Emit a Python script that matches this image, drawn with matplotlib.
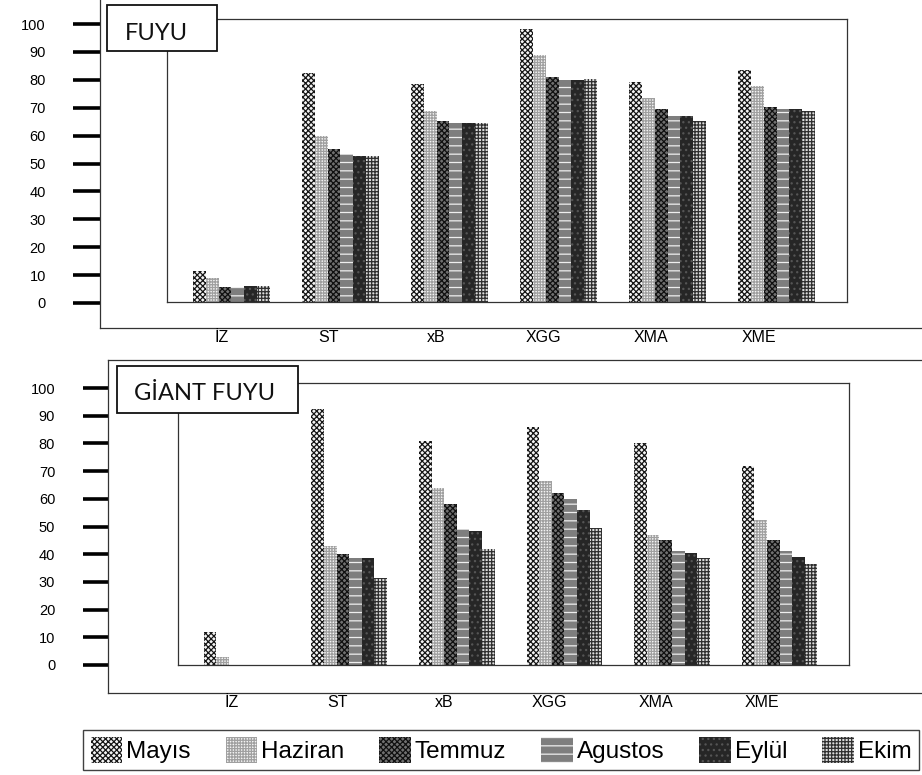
import numpy as np
import matplotlib
matplotlib.use("Agg")
import matplotlib.pyplot as plt
from matplotlib import font_manager
from matplotlib.font_manager import FontProperties
from matplotlib.patches import Rectangle

# ---- data -------------------------------------------------------------
categories = ["İZ", "ST", "xB", "XGG", "XMA", "XME"]
months = ["Mayıs", "Haziran", "Temmuz", "Agustos", "Eylül", "Ekim"]
y_ticks = [0, 10, 20, 30, 40, 50, 60, 70, 80, 90, 100]

# FUYU
fuyu_mayis = [11, 82, 78, 98, 79, 83]
fuyu_haziran = [8.5, 59.5, 68.5, 88.5, 73, 77.5]
fuyu_temmuz = [5.5, 55, 65, 80.5, 69, 70]
fuyu_agustos = [5.3, 53, 64, 79.5, 66.5, 69]
fuyu_eylul = [5.7, 52.5, 64, 79.5, 66.5, 69]
fuyu_ekim = [5.7, 52.5, 64, 80, 65, 68.5]

# GİANT FUYU
giant_mayis = [12, 92.5, 81, 86, 80, 72]
giant_haziran = [3, 43, 64, 66.5, 47, 52.5]
giant_temmuz = [0, 40, 58, 62, 45, 45]
giant_agustos = [0, 38.5, 49, 60, 41, 41]
giant_eylul = [0, 38.5, 48.5, 56, 40.5, 39]
giant_ekim = [0, 31.5, 42, 49.5, 38.5, 36.5]

fuyu_series = [fuyu_mayis, fuyu_haziran, fuyu_temmuz,
               fuyu_agustos, fuyu_eylul, fuyu_ekim]
giant_series = [giant_mayis, giant_haziran, giant_temmuz,
                giant_agustos, giant_eylul, giant_ekim]


# ---- fonts --------------------------------------------------------------
def pick_font(candidates):
    for fam in candidates:
        try:
            font_manager.findfont(FontProperties(family=fam),
                                  fallback_to_default=False)
            return fam
        except Exception:
            continue
    return "DejaVu Sans"


SANS = pick_font(["Liberation Sans", "Arial", "DejaVu Sans"])
TITLE = pick_font(["Lato", "Open Sans", "DejaVu Sans"])
plt.rcParams["font.family"] = [SANS, "DejaVu Sans"]
plt.rcParams["hatch.linewidth"] = 0.9

# bar fills: face colour, hatch, hatch colour
styles = [
    ("#f4f4f4", "xxxxxx", "#151515"),   # Mayıs
    ("#f4f4f4", "++++++", "#a0a0a0"),   # Haziran
    ("#707070", "xxxxxx", "#101010"),   # Temmuz
    ("#7e7e7e", "--", "#eeeeee"),       # Agustos
    ("#262626", "...", "#555555"),      # Eylül
    ("#dcdcdc", "+++++", "#2e2e2e"),    # Ekim
]

W, H = 922, 775
fig = plt.figure(figsize=(W / 100, H / 100), dpi=100)
fig.patch.set_facecolor("white")


def frac(l, t, r, b):
    return [l / W, 1 - b / H, (r - l) / W, (b - t) / H]


def draw_panel(series, outer_box, inner_box, zero_px, px_per_unit,
               tick_len, tick_pad, label_pad, show_top):
    ol, ot, orr, ob = outer_box
    il, it, ir, ib = inner_box

    # outer frame with the value scale
    ax_o = fig.add_axes(frac(ol, ot, orr, ob))
    ax_o.set_ylim(-(ob - zero_px) / px_per_unit, (zero_px - ot) / px_per_unit)
    ax_o.set_xlim(0, 1)
    ax_o.set_xticks([])
    ax_o.set_yticks(y_ticks)
    ax_o.set_yticklabels([str(v) for v in y_ticks])
    ax_o.tick_params(axis="y", direction="out", length=tick_len, width=2.6,
                     color="black", pad=tick_pad, labelsize=10.5)
    for sp in ax_o.spines.values():
        sp.set_color("#333333")
        sp.set_linewidth(0.9)
    ax_o.spines["right"].set_visible(False)
    ax_o.spines["top"].set_visible(show_top)

    # inner plotting box with the bars
    ax = fig.add_axes(frac(il, it, ir, ib))
    n = len(categories)
    x = np.arange(n)
    w = 0.117
    ax.set_xlim(-0.59, 5.645)
    ax.set_ylim(0, (ib - it) / px_per_unit)
    for j, (vals, (fc, hatch, hc)) in enumerate(zip(series, styles)):
        ax.bar(x + (j - 2.5) * w, vals, w, facecolor=fc, hatch=hatch,
               edgecolor=hc, linewidth=0, label=months[j])
    ax.set_yticks([])
    ax.set_xticks(x * 0.985 - 0.09)
    ax.set_xticklabels(categories, fontsize=11.5)
    ax.tick_params(axis="x", length=0, pad=label_pad)
    for sp in ax.spines.values():
        sp.set_color("#333333")
        sp.set_linewidth(0.9)
    return ax


ax_top = draw_panel(fuyu_series, (100, 0, 960, 328), (167, 19, 847, 302),
                    303, 2.79, 19.5, 19.5, 20, False)
ax_bot = draw_panel(giant_series, (108, 360, 960, 693), (178, 383, 849, 665),
                    665, 2.77, 18.0, 20.0, 21.5, True)


def title_box(l, t, r, b, text, tx, ty):
    rect = Rectangle((l / W, 1 - b / H), (r - l) / W, (b - t) / H,
                     transform=fig.transFigure, facecolor="white",
                     edgecolor="#111111", linewidth=1.3, zorder=5)
    fig.patches.append(rect)
    fig.text(tx / W, 1 - ty / H, text, ha="center", va="center",
             fontsize=17, family=[TITLE, "DejaVu Sans"], color="#111111",
             zorder=6)


title_box(107, 5, 217, 51, "FUYU", 156, 33)
title_box(117, 366, 298, 413, "GİANT FUYU", 205, 393)

handles, labels = ax_top.get_legend_handles_labels()
leg = fig.legend(handles, labels, loc="center",
                 bbox_to_anchor=(501 / W, 1 - 750 / H), ncol=6,
                 frameon=True, fancybox=False, borderpad=0.3,
                 handlelength=1.3, handleheight=1.25, handletextpad=0.15,
                 columnspacing=1.45, borderaxespad=0,
                 prop=FontProperties(family=[SANS, "DejaVu Sans"], size=17.5))
leg.get_frame().set_edgecolor("#111111")
leg.get_frame().set_linewidth(1.0)

fig.savefig("out.png", dpi=100, facecolor="white")
